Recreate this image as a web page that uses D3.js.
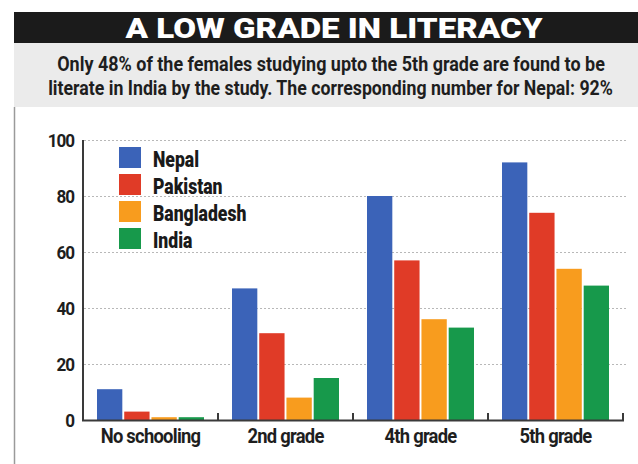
<!DOCTYPE html>
<html>
<head>
<meta charset="utf-8">
<script src="https://cdn.jsdelivr.net/npm/d3@7"></script>
<style>
  html, body { margin: 0; padding: 0; background: #ffffff; }
  svg { display: block; }
  text { font-family: Roboto, "DejaVu Sans", sans-serif; }
</style>
</head>
<body>
<svg id="chart" width="638" height="464"></svg>
<script>
// ---- data ----
const categories = ["No schooling", "2nd grade", "4th grade", "5th grade"];
const series = ["Nepal", "Pakistan", "Bangladesh", "India"];
const nepal      = [11, 47, 80, 92];
const pakistan   = [3, 31, 57, 74];
const bangladesh = [1, 8, 36, 54];
const india      = [1, 15, 33, 48];
const yTicks = [0, 20, 40, 60, 80, 100];
const titleText = "A LOW GRADE IN LITERACY";
const subtitleLines = [
  "Only 48% of the females studying upto the 5th grade are found to be",
  "literate in India by the study. The corresponding number for Nepal: 92%"
];

const values = [nepal, pakistan, bangladesh, india];
const colors = ["#3b63b8", "#e03b27", "#f89c1e", "#17994b"];

const svg = d3.select("#chart");
const W = 638, H = 464;

svg.append("rect").attr("width", W).attr("height", H).attr("fill", "#ffffff");

// header
svg.append("rect").attr("x", 14).attr("y", 12).attr("width", W - 14).attr("height", 31).attr("fill", "#1b1b1b");
svg.append("rect").attr("x", 14).attr("y", 43).attr("width", W - 14).attr("height", 64).attr("fill", "#ebebeb");
svg.append("line").attr("x1", 14.5).attr("x2", 14.5).attr("y1", 107).attr("y2", H)
  .attr("stroke", "#9a9a9a").attr("stroke-width", 1.5);

function fitText(sel, cx, baseline, width) {
  const node = sel.node();
  const w = node.getComputedTextLength();
  const s = width / w;
  sel.attr("text-anchor", "middle").attr("x", 0).attr("y", 0)
     .attr("transform", `translate(${cx},${baseline}) scale(${s},1)`);
}

const title = svg.append("text").text(titleText)
  .attr("font-size", 28).attr("font-weight", 900).attr("fill", "#ffffff");
fitText(title, 334, 38, 417);

const sub1 = svg.append("text").text(subtitleLines[0])
  .attr("font-size", 20.5).attr("font-weight", 700).attr("fill", "#1e1e1e");
fitText(sub1, 331, 71, 548);
const sub2 = svg.append("text").text(subtitleLines[1])
  .attr("font-size", 20.5).attr("font-weight", 700).attr("fill", "#1e1e1e");
fitText(sub2, 330.5, 95, 565);

// scales
const x0 = d3.scaleBand().domain(categories).range([83, 623]).paddingInner(0).paddingOuter(0);
const x1 = d3.scaleBand().domain(series).range([14, 121]).paddingInner(0.07).paddingOuter(0);
const y = d3.scaleLinear().domain([0, 100]).range([420, 140]);

// gridlines
svg.append("g").selectAll("line").data(yTicks.filter(d => d > 0)).join("line")
  .attr("x1", 84).attr("x2", 627)
  .attr("y1", d => y(d) + 0.5).attr("y2", d => y(d) + 0.5)
  .attr("stroke", "#b8b8b8").attr("stroke-width", 1).attr("stroke-dasharray", "2,2");

// y tick labels
svg.append("g").selectAll("text").data(yTicks).join("text")
  .text(d => d)
  .attr("text-anchor", "end")
  .attr("font-size", 19).attr("font-weight", 700).attr("fill", "#1e1e1e")
  .attr("letter-spacing", -1.2)
  .attr("transform", d => `translate(74,${y(d) + 6.5}) scale(0.9,1)`);

// bars
const bars = svg.append("g");
categories.forEach((c, ci) => {
  series.forEach((s, si) => {
    const v = values[si][ci];
    bars.append("rect")
      .attr("x", x0(c) + x1(s))
      .attr("y", y(v))
      .attr("width", x1.bandwidth())
      .attr("height", y(0) - y(v))
      .attr("fill", colors[si]);
  });
});

// axes
svg.append("line").attr("x1", 83).attr("x2", 83).attr("y1", y(100)).attr("y2", y(0) + 1)
  .attr("stroke", "#3a3a3a").attr("stroke-width", 2);
svg.append("line").attr("x1", 82).attr("x2", x0.range()[1] + 1).attr("y1", y(0) + 0.5).attr("y2", y(0) + 0.5)
  .attr("stroke", "#3a3a3a").attr("stroke-width", 2);
const boundaries = categories.map(c => x0(c) + x0.bandwidth());
svg.append("g").selectAll("line").data(boundaries).join("line")
  .attr("x1", d => d).attr("x2", d => d)
  .attr("y1", y(0)).attr("y2", y(0) - 7)
  .attr("stroke", "#3a3a3a").attr("stroke-width", 2);

// category labels
svg.append("g").selectAll("text").data(categories).join("text")
  .text(d => d)
  .attr("text-anchor", "middle")
  .attr("font-size", 20).attr("font-weight", 700).attr("fill", "#1e1e1e")
  .attr("letter-spacing", -0.8)
  .attr("transform", d => `translate(${x0(d) + x0.bandwidth() / 2},443) scale(0.92,1)`);

// legend
const legend = svg.append("g");
series.forEach((s, i) => {
  legend.append("rect")
    .attr("x", 119).attr("y", 147 + i * 27)
    .attr("width", 22).attr("height", 21)
    .attr("fill", colors[i]);
  legend.append("text").text(s)
    .attr("font-size", 22).attr("font-weight", 900).attr("fill", "#1a1a1a")
    .attr("transform", `translate(153,${167 + i * 27}) scale(0.8,1)`);
});
</script>
</body>
</html>
